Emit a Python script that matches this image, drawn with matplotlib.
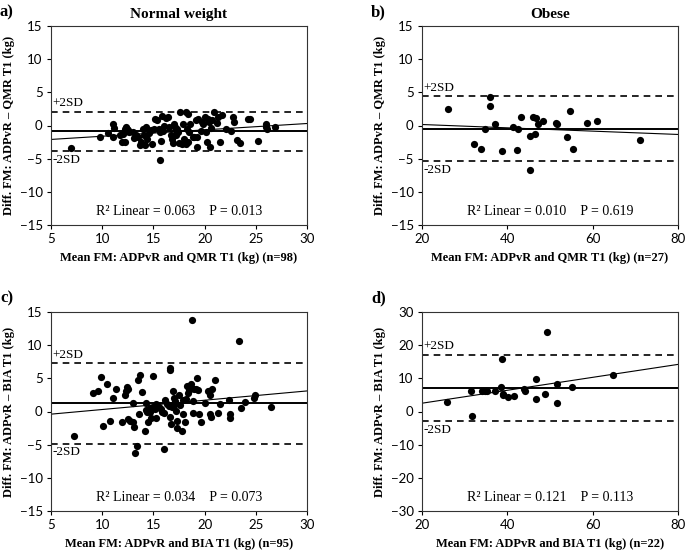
import numpy as np
import matplotlib
matplotlib.use("Agg")
import matplotlib.pyplot as plt

# ---------------- data ----------------
a_x = [7.0, 9.8, 10.6, 11.1, 11.2, 11.1, 11.7, 11.9, 12.2, 12.3, 12.4, 12.5, 12.6, 12.2,
       13.0, 13.3, 13.5, 13.7, 13.8, 14.0, 14.2, 14.3, 14.4, 14.6, 14.8, 14.9,
       15.2, 15.4, 15.8, 15.5, 15.6, 15.7, 15.6, 15.9,
       16.2, 16.4, 16.5, 16.7, 16.8, 16.9, 17.0, 17.2,
       17.6, 17.3, 17.1, 17.5, 17.8, 17.4, 17.9, 17.2,
       18.2, 18.4, 18.6, 18.3, 18.5, 18.4, 18.2, 18.9,
       19.2, 19.4, 19.0, 19.3, 19.3, 19.6, 20.0, 19.8,
       20.9, 20.2, 20.5, 20.4, 20.6, 20.7, 20.3,
       21.3, 21.7, 21.5, 21.2,
       22.1, 22.6, 22.8, 22.9,
       23.2, 23.5, 24.2, 24.4, 25.2, 26.0, 26.0, 26.1, 26.9,
       13.1, 14.1, 15.1, 16.0, 18.0, 19.7, 20.1, 12.0]
a_y = [-3.45, -1.7, -1.2, 0.2, -0.45, -1.7, -1.45, -2.45, -2.45, -0.3, -0.5, -0.7, -1.0, -0.5,
       -1.0, -1.5, -1.8, -3.0, -2.5, -0.5, -3.0, -0.3, -2.0, -1.2, -0.7, -2.8,
       1.0, 0.8, 1.5, -0.5, -1.0, -2.3, -5.2, -0.8,
       1.2, 1.3, -0.3, -1.5, -2.0, -2.6, 0.2, -0.7,
       2.0, -0.5, -0.3, -2.6, -2.8, -1.0, 0.3, -1.5,
       2.1, 1.7, 0.3, -0.5, -1.0, -2.5, -2.8, -1.7,
       0.8, 1.0, -1.8, -1.7, -3.2, -0.8, 1.3, 0.2,
       2.0, -2.5, -3.3, 0.5, -0.4, 0.8, 1.0,
       1.3, 1.6, -2.5, 0.4,
       -0.5, -0.9, 1.3, 0.6,
       -2.2, -2.6, 1.0, 1.0, -2.4, 0.3, -0.3, -0.5, -0.2,
       -1.9, -1.4, -0.6, 0.0, -2.0, 0.6, -1.0, -1.3]

b_x = [26.1, 32.3, 33.9, 34.8, 36.0, 36.0, 37.0, 38.8, 41.4, 42.3, 42.5, 43.1, 45.3, 45.2,
       46.0, 46.8, 46.6, 47.2, 48.4, 51.3, 51.7, 54.1, 54.7, 55.5, 58.7, 60.9, 71.2]
b_y = [2.55, -2.8, -3.55, -0.55, 4.3, 3.0, 0.25, -3.85, -0.2, -3.7, -0.5, 1.35, -1.6, -6.7,
       1.35, 1.2, -1.35, 0.2, 0.65, 0.35, 0.2, -1.75, 2.2, -3.55, 0.35, 0.7, -2.2]

c_x = [7.2, 9.1, 9.6, 9.9, 10.1, 10.5, 10.8, 11.1, 11.3, 11.9, 12.2, 12.3, 12.4, 12.5, 12.5,
       12.7, 13.0, 13.0, 13.1, 13.2, 13.4, 13.5, 13.7, 13.6, 13.9, 14.2, 14.3, 14.3, 14.4,
       14.5, 14.7, 14.7, 14.8, 15.0, 15.0, 15.2, 15.3, 15.3, 15.5, 15.7, 15.8, 16.0, 16.0,
       16.1, 16.3, 16.5, 16.6, 16.6, 16.6, 16.7, 16.8, 16.9, 17.0, 17.0, 17.1, 17.2, 17.3,
       17.3, 17.5, 17.6, 17.8, 17.9, 17.9, 18.1, 18.2, 18.3, 18.4, 18.5, 18.7, 18.8, 18.9,
       18.9, 19.0, 19.2, 19.3, 19.4, 19.5, 19.6, 20.0, 20.3, 20.5, 20.5, 20.7, 20.6, 21.0,
       21.3, 21.5, 22.4, 22.5, 22.5, 23.4, 23.6, 23.9, 24.8, 24.9, 26.5]
c_y = [-3.65, 2.85, 3.1, 5.2, -2.2, 4.1, -1.45, 2.1, 3.45, -1.65, 2.45, 3.05, 3.7, 3.45, -1.15,
       -1.4, -1.55, 1.35, -2.4, -6.2, -5.2, 4.7, 5.45, -0.45, 2.95, -2.9, 1.3, 0.2, -0.05,
       -1.65, 0.55, -0.15, -0.95, 5.35, 0.7, 0.35, 1.2, -0.95, 0.7, 0.45, -0.05, -5.65, -0.3,
       1.7, 1.2, 0.85, 6.6, 6.3, -0.8, -1.95, 0.7, 3.05, 0.95, 2.05, 1.55, 0.05, -1.45,
       -2.45, 2.45, 0.95, -2.95, -0.45, 1.7, -1.65, 1.85, 3.85, 2.85, 3.2, 4.2, 13.85, -0.3,
       1.55, 3.45, 3.35, 5.05, 3.3, -0.45, -1.55, 1.3, 3.1, -0.45, 2.45, 3.45, -0.8, 4.8,
       -0.2, 1.2, 1.7, -0.45, -0.95, 10.7, 0.6, 1.45, 2.05, 2.45, 0.7]

d_x = [25.9, 31.6, 31.7, 34.1, 34.8, 35.3, 37.2, 38.6, 38.8, 39.0, 39.1, 40.1, 41.6, 43.9,
       44.1, 46.8, 46.8, 48.8, 49.3, 51.7, 51.7, 55.2, 64.8]
d_y = [2.8, 6.05, -1.3, 6.25, 6.05, 6.25, 6.25, 7.35, 15.9, 5.25, 4.85, 4.35, 4.55, 6.85,
       6.25, 9.75, 3.85, 5.25, 24.0, 8.35, 2.7, 7.25, 10.9]

# mean difference, +2SD, -2SD
a_lines = [-0.9, 2.1, -3.9]
b_lines = [-0.5, 4.4, -5.4]
c_lines = [1.25, 7.25, -4.85]
d_lines = [6.95, 17.0, -3.0]

# regression (slope, intercept)
a_fit = [0.096, -2.58]
b_fit = [-0.025, 0.65]
c_fit = [0.14, -1.1]
d_fit = [0.195, -1.4]

stats_text = ["R\u00b2 Linear = 0.063    P = 0.013",
              "R\u00b2 Linear = 0.010    P = 0.619",
              "R\u00b2 Linear = 0.034    P = 0.073",
              "R\u00b2 Linear = 0.121    P = 0.113"]
xlabels = ["Mean FM: ADPvR and QMR T1 (kg) (n=98)",
           "Mean FM: ADPvR and QMR T1 (kg) (n=27)",
           "Mean FM: ADPvR and BIA T1 (kg) (n=95)",
           "Mean FM: ADPvR and BIA T1 (kg) (n=22)"]
ylabels = ["Diff. FM: ADPvR \u2013 QMR T1 (kg)",
           "Diff. FM: ADPvR \u2013 QMR T1 (kg)",
           "Diff. FM: ADPvR \u2013 BIA T1 (kg)",
           "Diff. FM: ADPvR \u2013 BIA T1 (kg)"]
titles = ["Normal weight", "Obese", "", ""]
panel_letters = ["a)", "b)", "c)", "d)"]
xlims = [(5, 30), (20, 80), (5, 30), (20, 80)]
xticks = [[5, 10, 15, 20, 25, 30], [20, 40, 60, 80], [5, 10, 15, 20, 25, 30], [20, 40, 60, 80]]
ylims = [(-15, 15), (-15, 15), (-15, 15), (-30, 30)]
yticks = [[-15, -10, -5, 0, 5, 10, 15]] * 3 + [[-30, -20, -10, 0, 10, 20, 30]]

# ---------------- plot ----------------
W, H = 685, 553
fig = plt.figure(figsize=(W / 100, H / 100), dpi=100)
boxes = [(51, 26, 307, 225), (422, 26, 678, 225), (51, 312, 307, 511), (422, 312, 678, 511)]
serif = ["Liberation Serif", "DejaVu Serif"]
sans = ["Lato", "DejaVu Sans"]

data = [(a_x, a_y, a_lines, a_fit), (b_x, b_y, b_lines, b_fit),
        (c_x, c_y, c_lines, c_fit), (d_x, d_y, d_lines, d_fit)]

for i, (xs, ys, lines, fit) in enumerate(data):
    l, t, r, b = boxes[i]
    ax = fig.add_axes([l / W, 1 - b / H, (r - l) / W, (b - t) / H])
    ax.set_xlim(*xlims[i])
    ax.set_ylim(*ylims[i])
    ax.scatter(xs, ys, s=27, color="black", zorder=3, linewidths=0)
    ax.axhline(lines[0], color="black", lw=1.4, zorder=2)
    ax.axhline(lines[1], color="black", lw=1.2, ls=(0, (4, 3)), zorder=2)
    ax.axhline(lines[2], color="black", lw=1.2, ls=(0, (4, 3)), zorder=2)
    xx = np.array(xlims[i], dtype=float)
    ax.plot(xx, fit[0] * xx + fit[1], color="black", lw=0.8, zorder=2)
    ax.annotate("+2SD", (0.005, lines[1]), xycoords=("axes fraction", "data"),
                xytext=(0, 2), textcoords="offset points", ha="left", va="bottom",
                fontsize=9.5, family=serif)
    ax.annotate("-2SD", (0.005, lines[2]), xycoords=("axes fraction", "data"),
                xytext=(0, -2), textcoords="offset points", ha="left", va="top",
                fontsize=9.5, family=serif)
    ax.text(0.5, 0.07, stats_text[i], transform=ax.transAxes, ha="center", va="center",
            fontsize=10, family=serif)
    ax.set_xticks(xticks[i])
    ax.set_yticks(yticks[i])
    ax.tick_params(direction="out", length=3, width=0.8, labelsize=9.5, pad=3)
    for lab in ax.get_xticklabels() + ax.get_yticklabels():
        lab.set_family(sans)
    for sp in ax.spines.values():
        sp.set_linewidth(0.8)
        sp.set_color("#333333")
    ax.set_xlabel(xlabels[i], family=serif, fontweight="bold", fontsize=9, labelpad=5)
    ax.set_ylabel(ylabels[i], family=serif, fontweight="bold", fontsize=9, labelpad=3)
    if titles[i]:
        ax.set_title(titles[i], family=serif, fontweight="bold", fontsize=11, pad=6)
    fig.text((l - 51) / W, 1 - (t - 14) / H,
             panel_letters[i], family=serif, fontweight="bold", fontsize=12,
             ha="left", va="center")

fig.savefig("out.png", dpi=100)
